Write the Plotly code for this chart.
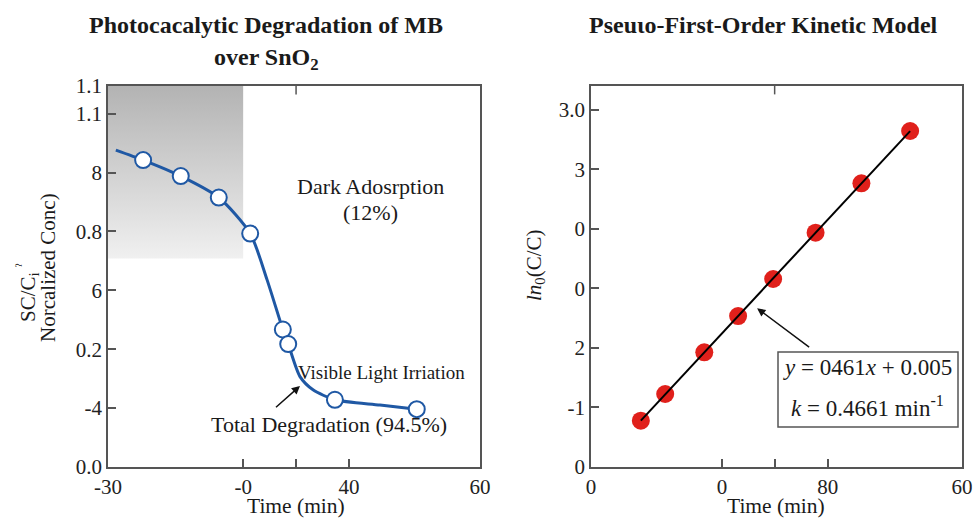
import numpy as np
import plotly.graph_objects as go

W, H = 977, 520

# ---------------- data ----------------
# Left panel: measured points (open circles)
deg_time = [-21.5, -12.4, -3.2, 4.4, 12.3, 13.6, 24.9, 44.7]
deg_conc = [0.886, 0.840, 0.778, 0.674, 0.397, 0.355, 0.194, 0.167]
# Left panel: smooth guide curve
curve_time = [-28.1, -21.5, -12.4, -3.2, 4.4, 8.47, 12.3, 13.6, 16.45, 19.6, 24.9, 35.8, 44.7]
curve_conc = [0.915, 0.886, 0.840, 0.778, 0.674, 0.541, 0.397, 0.355, 0.261, 0.223, 0.194, 0.179, 0.167]
left_xtickvals = [-30, 2.7, 15.5, 28.3, 60]
left_xticktext = ["-30", "-0", " ", "40", "60"]
left_ytickvals = [0, 0.17, 0.34, 0.51, 0.68, 0.85, 1.02, 1.1]
left_yticktext = ["0.0", "-4", "0.2", "6", "0.8", "8", "1.1", "1.1"]
dark_x = [-30, 2.7]
dark_y = [0.602, 1.1]

# Right panel: kinetic points
kin_time = [8.06, 12.0, 18.32, 23.79, 29.46, 36.32, 43.73, 51.61]
kin_lnc = [0.389, 0.613, 0.963, 1.268, 1.579, 1.968, 2.383, 2.822]
right_xtickvals = [0, 21.2, 29.7, 38.3, 60]
right_xticktext = ["0", "0", " ", "80", "60"]
right_ytickvals = [0, 0.5, 1.0, 1.5, 2.0, 2.5, 3.0]
right_yticktext = ["0", "-1", "2", "0", "0", "3", "3.0"]

# ---------------- helpers ----------------
def px(x):
    return x / W

def py(y):
    return 1 - y / H

SERIF = "Liberation Serif, Times New Roman, serif"
AX = "#555555"
BLUE = "#1f58a4"

fig = go.Figure()

# gradient shaded dark-adsorption region
fig.add_trace(go.Scatter(
    x=[dark_x[0], dark_x[1], dark_x[1], dark_x[0], dark_x[0]],
    y=[dark_y[0], dark_y[0], dark_y[1], dark_y[1], dark_y[0]],
    mode="lines", line=dict(width=0), fill="toself",
    fillgradient=dict(type="vertical",
                      colorscale=[[0, "#f0f0f0"], [1, "#b3b3b3"]]),
    xaxis="x", yaxis="y", showlegend=False, hoverinfo="skip"))

fig.add_trace(go.Scatter(
    x=curve_time, y=curve_conc, mode="lines",
    line=dict(color=BLUE, width=3, shape="spline", smoothing=0.7),
    xaxis="x", yaxis="y", showlegend=False))
fig.add_trace(go.Scatter(
    x=deg_time, y=deg_conc, mode="markers",
    marker=dict(size=16, color="white", line=dict(color=BLUE, width=2)),
    xaxis="x", yaxis="y", showlegend=False))

# right panel
coef = np.polyfit(kin_time, kin_lnc, 1)
fit_x = [kin_time[0], kin_time[-1]]
fit_y = [float(np.polyval(coef, v)) for v in fit_x]
fig.add_trace(go.Scatter(
    x=kin_time, y=kin_lnc, mode="markers",
    marker=dict(size=18, color="#e0201b"),
    xaxis="x2", yaxis="y2", showlegend=False))
fig.add_trace(go.Scatter(
    x=fit_x, y=fit_y, mode="lines", line=dict(color="black", width=2),
    xaxis="x2", yaxis="y2", showlegend=False))

axis_common = dict(showline=True, linecolor=AX, linewidth=1.5, mirror=True,
                   ticks="inside", ticklen=8, tickcolor=AX, tickwidth=1.5,
                   showgrid=False, zeroline=False, automargin=False,
                   tickfont=dict(family=SERIF, size=21, color="#222"))

fig.update_layout(
    width=W, height=H, margin=dict(l=0, r=0, t=0, b=0, pad=0), autosize=False,
    paper_bgcolor="white", plot_bgcolor="white",
    xaxis=dict(domain=[px(108), px(480)], anchor="y", range=[-30, 60],
               tickmode="array", tickvals=left_xtickvals, ticktext=left_xticktext,
               **axis_common),
    yaxis=dict(domain=[py(467), py(86)], anchor="x", range=[0, 1.1],
               tickmode="array", tickvals=left_ytickvals, ticktext=left_yticktext,
               **axis_common),
    xaxis2=dict(domain=[px(591), px(962)], anchor="y2", range=[0, 60],
                tickmode="array", tickvals=right_xtickvals, ticktext=right_xticktext,
                **axis_common),
    yaxis2=dict(domain=[py(467), py(86)], anchor="x2", range=[0, 3.2],
                tickmode="array", tickvals=right_ytickvals, ticktext=right_yticktext,
                **axis_common),
)

# single top ticks
fig.add_shape(type="line", xref="x", yref="y domain", x0=15.5, x1=15.5, y0=1, y1=0.978,
              line=dict(color=AX, width=1.5))
fig.add_shape(type="line", xref="x2", yref="y2 domain", x0=29.7, x1=29.7, y0=1, y1=0.978,
              line=dict(color=AX, width=1.5))

# equation box
fig.add_shape(type="rect", xref="paper", yref="paper",
              x0=px(778), x1=px(958), y0=py(427), y1=py(352),
              line=dict(color=AX, width=1.5), fillcolor="white", layer="above")

def text(t, x, y, size=21, bold=False, angle=0, xanchor="center", color="#1a1a1a"):
    if bold:
        t = "<b>" + t + "</b>"
    fig.add_annotation(text=t, x=px(x), y=py(y), xref="paper", yref="paper",
                       showarrow=False, xanchor=xanchor, yanchor="middle",
                       textangle=angle, borderpad=0,
                       font=dict(family=SERIF, size=size, color=color))

# titles
text("Photocacalytic Degradation of MB", 266, 25, size=24, bold=True)
text("over SnO<sub>2</sub>", 266, 59, size=24, bold=True)
text("Pseuιo-First-Order Kinetic Model", 763, 25, size=24, bold=True)

# axis titles
text("Time (min)", 296, 506, size=21.5)
text("Time (min)", 776, 506, size=21.5)
text("SC/C<sub>i</sub> <sup>ˀ</sup>", 27, 293, angle=-90)
text("Norcalized Conc)", 48, 268, angle=-90)
text("<i>ln</i><sub>0</sub>(C/C)", 535, 265, angle=-90)

# left annotations
text("Dark Adosrption", 370, 186, size=22)
text("(12%)", 370, 212, size=22)
text("Visible Light Irriation", 297, 372, size=19, xanchor="left")
text("Total Degradation (94.5%)", 329, 424, size=22)
fig.add_annotation(x=16.45, y=0.234, xref="x", yref="y", ax=-27, ay=24,
                   showarrow=True, arrowhead=2, arrowsize=1.1, arrowwidth=1.5,
                   arrowcolor="#111", text=" ")

# right annotations
text("<i>y</i> = 0461<i>x</i> + 0.005", 867, 367, size=23)
text("<i>k</i> = 0.4661 min<sup>-1</sup>", 867, 406, size=23)
fig.add_annotation(x=26.87, y=1.333, xref="x2", yref="y2", ax=55, ay=41,
                   showarrow=True, arrowhead=2, arrowsize=1.1, arrowwidth=1.5,
                   arrowcolor="#111", text=" ")

fig.write_html("out.html", post_script="document.body.style.margin='0';")
